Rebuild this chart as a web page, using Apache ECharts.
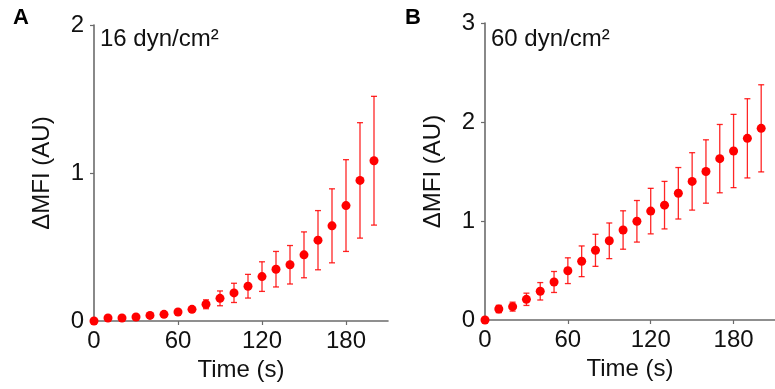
<!DOCTYPE html>
<html>
<head>
<meta charset="utf-8">
<script src="https://cdn.jsdelivr.net/npm/echarts@6/dist/echarts.min.js"></script>
<style>html,body{margin:0;padding:0;background:#fff}#c{width:775px;height:389px}</style>
</head>
<body>
<div id="c"></div>
<script>
var times = [0,10,20,30,40,50,60,70,80,90,100,110,120,130,140,150,160,170,180,190,200];
var meanA = [0,0.02,0.02,0.027,0.038,0.045,0.061,0.079,0.113,0.153,0.19,0.235,0.30,0.35,0.38,0.447,0.546,0.643,0.78,0.95,1.083];
var errA  = [0,0,0,0,0,0,0,0,0.03,0.05,0.065,0.08,0.10,0.12,0.13,0.155,0.20,0.25,0.31,0.39,0.435];
var meanB = [0,0.111,0.135,0.209,0.29,0.384,0.498,0.593,0.704,0.80,0.909,0.997,1.10,1.16,1.28,1.40,1.50,1.63,1.707,1.835,1.936];
var errB  = [0,0.037,0.045,0.062,0.088,0.106,0.13,0.155,0.162,0.18,0.194,0.21,0.23,0.24,0.26,0.29,0.32,0.345,0.37,0.40,0.44];
var xTicks = [0,60,120,180];
var panelLetters = ['A','B'];
var panelTitles = ['16 dyn/cm\u00B2','60 dyn/cm\u00B2'];
var yMaxes = [2,3];
var xName = 'Time (s)';
var yName = '\u0394MFI (AU)';

var FONT = '"Liberation Sans", Arial, sans-serif';
var AXC = '#6b6b6b';
var RED = '#ff0000';

function pts(m){ return times.map(function(t,i){return [t,m[i]];}); }
function errs(m,e){ return times.map(function(t,i){return [t,m[i]-e[i],m[i]+e[i]];}); }

function errRender(params, api){
  if (api.value(2) - api.value(1) <= 0) return null;
  var x = api.value(0);
  var lo = api.coord([x, api.value(1)]);
  var hi = api.coord([x, api.value(2)]);
  var w = 3;
  var st = {stroke: RED, lineWidth: 1.3, opacity: 0.85};
  return {type:'group', children:[
    {type:'line', shape:{x1:lo[0],y1:lo[1],x2:hi[0],y2:hi[1]}, style:st},
    {type:'line', shape:{x1:lo[0]-w,y1:lo[1],x2:lo[0]+w,y2:lo[1]}, style:st},
    {type:'line', shape:{x1:hi[0]-w,y1:hi[1],x2:hi[0]+w,y2:hi[1]}, style:st}
  ]};
}

function xAxis(gi){
  return {type:'value', gridIndex:gi, min:0, max:210, interval:60,
    name:xName, nameLocation:'middle', nameGap:36,
    nameTextStyle:{fontSize:24, color:'#111', fontFamily:FONT},
    axisLine:{lineStyle:{color:AXC, width:1.6}},
    axisTick:{show:true, length:4, customValues:xTicks, lineStyle:{color:AXC, width:1.2}},
    axisLabel:{customValues:xTicks, fontSize:24, color:'#111', fontFamily:FONT, margin:8},
    splitLine:{show:false}};
}
function yAxis(gi){
  return {type:'value', gridIndex:gi, min:0, max:yMaxes[gi], interval:1,
    name:yName, nameLocation:'middle', nameGap:40,
    nameTextStyle:{fontSize:24, color:'#111', fontFamily:FONT},
    axisLine:{show:true, lineStyle:{color:AXC, width:1.6}},
    axisTick:{show:true, length:4, lineStyle:{color:AXC, width:1.2}},
    axisLabel:{fontSize:24, color:'#111', fontFamily:FONT, margin:10},
    splitLine:{show:false}};
}

var chart = echarts.init(document.getElementById('c'), null, {renderer:'canvas'});
chart.setOption({
  animation:false,
  backgroundColor:'#fff',
  grid:[
    {left:94, top:25, width:294, height:296},
    {left:485, top:23, width:295, height:297}
  ],
  xAxis:[xAxis(0), xAxis(1)],
  yAxis:[yAxis(0), yAxis(1)],
  graphic:[
    {type:'text', left:13, top:7, style:{text:panelLetters[0], font:'bold 22px '+FONT, fill:'#000'}},
    {type:'text', left:405, top:7, style:{text:panelLetters[1], font:'bold 22px '+FONT, fill:'#000'}},
    {type:'text', left:100, top:27, style:{text:panelTitles[0], font:'24px '+FONT, fill:'#111'}},
    {type:'text', left:491, top:27, style:{text:panelTitles[1], font:'24px '+FONT, fill:'#111'}}
  ],
  series:[
    {type:'custom', xAxisIndex:0, yAxisIndex:0, data:errs(meanA,errA), renderItem:errRender, clip:false, z:2},
    {type:'scatter', xAxisIndex:0, yAxisIndex:0, data:pts(meanA), symbolSize:9, itemStyle:{color:RED, opacity:1}, clip:false, z:3},
    {type:'custom', xAxisIndex:1, yAxisIndex:1, data:errs(meanB,errB), renderItem:errRender, clip:false, z:2},
    {type:'scatter', xAxisIndex:1, yAxisIndex:1, data:pts(meanB), symbolSize:9, itemStyle:{color:RED, opacity:1}, clip:false, z:3}
  ]
});
</script>
</body>
</html>
